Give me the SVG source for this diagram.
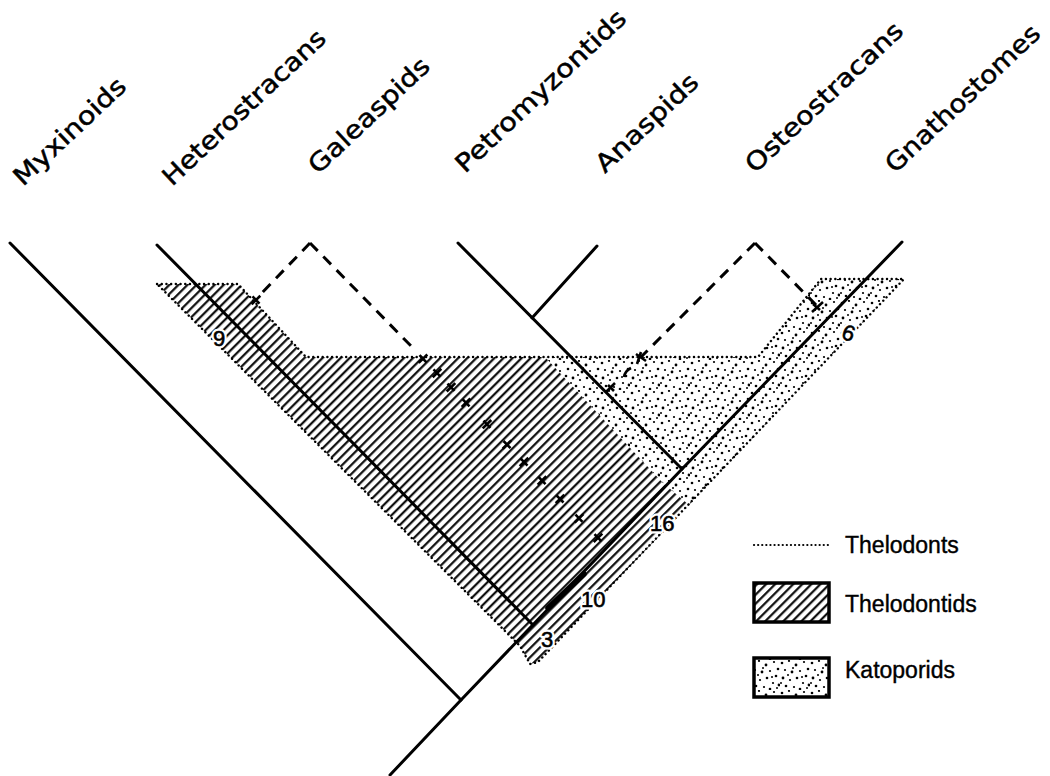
<svg xmlns="http://www.w3.org/2000/svg" width="1050" height="776" viewBox="0 0 1050 776">
<style>
.ln{fill:none;stroke:#000;stroke-width:3;stroke-linecap:round}
.dash{fill:none;stroke:#000;stroke-width:3;stroke-dasharray:11 8}
.tk{fill:none;stroke:#000;stroke-width:2.6}
.dot{fill:none;stroke:#000;stroke-width:2.4;stroke-linecap:round;stroke-dasharray:0.1 4.6}
.lab{font-family:"DejaVu Sans","Liberation Sans",sans-serif;font-size:25px;fill:#000;stroke:#000;stroke-width:0.5}
.num{font-family:"Liberation Sans",Arial,sans-serif;font-size:22px;fill:#000;stroke:#000;stroke-width:0.6}
.halo{font-family:"Liberation Sans",Arial,sans-serif;font-size:22px;fill:#fff;stroke:#fff;stroke-width:5;stroke-linejoin:round}
.leg{font-family:"Liberation Sans",Arial,sans-serif;font-size:23px;fill:#000;stroke:#000;stroke-width:0.4}
</style>
<defs>
<pattern id="hatch" patternUnits="userSpaceOnUse" width="6.4" height="6.4" patternTransform="rotate(45)">
<line x1="1.2" y1="0" x2="1.2" y2="6.4" stroke="#000" stroke-width="2.1"/>
</pattern>
<pattern id="stip" patternUnits="userSpaceOnUse" width="30" height="30">
<g fill="#000">
<circle cx="2" cy="3" r="1.3"/><circle cx="9" cy="1" r="1.1"/><circle cx="16" cy="5" r="1.4"/><circle cx="24" cy="2" r="1.1"/>
<circle cx="28" cy="9" r="1.3"/><circle cx="5" cy="10" r="1.1"/><circle cx="12" cy="12" r="1.4"/><circle cx="20" cy="11" r="1.1"/>
<circle cx="26" cy="16" r="1.3"/><circle cx="3" cy="18" r="1.4"/><circle cx="10" cy="20" r="1.1"/><circle cx="17" cy="18" r="1.3"/>
<circle cx="23" cy="23" r="1.1"/><circle cx="29" cy="25" r="1.4"/><circle cx="6" cy="26" r="1.3"/><circle cx="14" cy="27" r="1.1"/>
<circle cx="20" cy="29" r="1.3"/><circle cx="13" cy="8" r="1"/><circle cx="22" cy="17" r="1"/><circle cx="8" cy="15" r="1"/><circle cx="27" cy="28" r="1"/><circle cx="1" cy="23" r="1"/>
</g>
</pattern>
<path id="tick" d="M-3.5,-3.6 L3.5,3.6 M4.3,-4.2 L-4.3,4.2" class="tk"/>
</defs>

<g id="regions">
<path id="thelodontids-area" d="M157,284 L238,284 L306,357 L545,357 L662,482 L689,505 L538,662 L530,664 L520,646 Z" fill="url(#hatch)"/>
<path id="katoporids-area" d="M545,357 L758,357 L821,279 L904,279 L689,505 L662,482 Z" fill="url(#stip)"/>
<path id="thelodonts-outline" d="M157,284 L238,284 L306,357 L758,357 L821,279 L904,279 L538,662 L530,664 L520,646 Z" class="dot"/>
</g>

<g id="connectors">
<path class="ln" d="M390,775 L461,700 L682,469 L902,242"/>
<path class="ln" d="M10,243 L461,700"/>
<path class="ln" d="M157,245 L533,625"/>
<path class="ln" d="M458,243 L682,469"/>
<path class="ln" d="M597,246 L532,318"/>
<path class="ln" d="M548,608 L584,574" style="stroke-width:5.5"/>
<path class="dash" d="M310,243 L258,297"/>
<path class="dash" d="M310,243 L413,348"/>
<path class="dash" d="M755,243 L641,357"/>
<path class="dash" d="M755,243 L818,307"/>
<g id="ticks">
<use href="#tick" x="256" y="300"/>
<use href="#tick" x="423" y="358.7"/>
<use href="#tick" x="437" y="373"/>
<use href="#tick" x="451" y="387.3"/>
<use href="#tick" x="466" y="402.7"/>
<use href="#tick" x="487" y="424.2"/>
<use href="#tick" x="507" y="444.6"/>
<use href="#tick" x="524" y="462"/>
<use href="#tick" x="542" y="480.5"/>
<use href="#tick" x="560" y="498.9"/>
<use href="#tick" x="579" y="518.3"/>
<use href="#tick" x="598" y="537.8"/>
<path class="tk" d="M636,354 L646,361 M641,352 L637,364"/>
<path class="tk" d="M631,368 Q625,371 624,377"/>
<path class="tk" d="M608,385 L614,391 M615,383 L606,392"/>
<path class="tk" d="M812,312 L823,302 M813,304 L820,310"/>
</g>
</g>

<g id="labels">
<text class="lab" transform="translate(23,187) rotate(-43.3)" textLength="144" lengthAdjust="spacingAndGlyphs">Myxinoids</text>
<text class="lab" transform="translate(172,187) rotate(-43.3)" textLength="214" lengthAdjust="spacingAndGlyphs">Heterostracans</text>
<text class="lab" transform="translate(318,175) rotate(-43.3)" textLength="156" lengthAdjust="spacingAndGlyphs">Galeaspids</text>
<text class="lab" transform="translate(465,174) rotate(-43.3)" textLength="224" lengthAdjust="spacingAndGlyphs">Petromyzontids</text>
<text class="lab" transform="translate(605,174) rotate(-43.3)" textLength="131" lengthAdjust="spacingAndGlyphs">Anaspids</text>
<text class="lab" transform="translate(755,174) rotate(-43.3)" textLength="206" lengthAdjust="spacingAndGlyphs">Osteostracans</text>
<text class="lab" transform="translate(895,174) rotate(-43.3)" textLength="202" lengthAdjust="spacingAndGlyphs">Gnathostomes</text>
</g>

<g id="numbers">
<text class="halo" x="219" y="346" text-anchor="middle" font-size="20">9</text>
<text class="num" x="219" y="346" text-anchor="middle" font-size="20">9</text>
<text class="halo" transform="translate(846,340) rotate(20)" text-anchor="middle">6</text>
<text class="num" transform="translate(846,340) rotate(20)" text-anchor="middle">6</text>
<text class="halo" x="650" y="531">16</text>
<text class="num" x="650" y="531">16</text>
<text class="halo" x="581" y="607">10</text>
<text class="num" x="581" y="607">10</text>
<text class="halo" x="541" y="647">3</text>
<text class="num" x="541" y="647">3</text>
</g>

<g id="legend">
<line x1="754" y1="545" x2="830" y2="545" class="dot" style="stroke-width:2.2;stroke-dasharray:0.1 4"/>
<text class="leg" x="845" y="553">Thelodonts</text>
<rect x="754" y="583" width="75" height="39" fill="url(#hatch)" stroke="#000" stroke-width="3.5"/>
<text class="leg" x="845" y="612">Thelodontids</text>
<rect x="754" y="658" width="75" height="39" fill="url(#stip)" stroke="#000" stroke-width="3.5"/>
<text class="leg" x="845" y="678">Katoporids</text>
</g>
</svg>
